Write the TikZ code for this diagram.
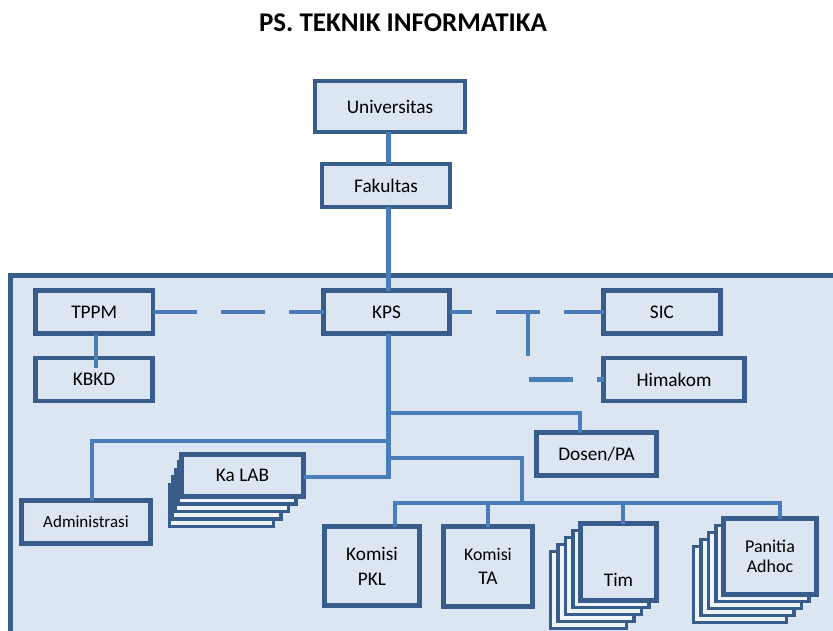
\documentclass[tikz,border=0pt]{standalone}
\usepackage{fontspec}
\setmainfont{Carlito}
\usetikzlibrary{calc}
\definecolor{boxline}{HTML}{385D8A}
\definecolor{boxfill}{HTML}{DCE6F2}
\definecolor{connline}{HTML}{4A7EBB}
\begin{document}
\begin{tikzpicture}[x=1pt,y=-1pt,
  box/.style={draw=boxline, fill=boxfill, line width=4.5pt, inner sep=0pt, outer sep=0pt,
    font=\fontsize{19.3}{25}\selectfont, align=center, text=black},
  layer/.style={draw=boxline, fill=boxfill!45!white, line width=3.5pt},
  conn/.style={draw=connline, line width=4.5pt},
  dashconn/.style={conn, dash pattern=on 44pt off 24pt},
  lbl/.style={inner sep=0pt, font=\fontsize{19.3}{25}\selectfont, text=black}]
\useasboundingbox (0,0) rectangle (833,630);
\clip (0,0) rectangle (833,630);
% title
\node[inner sep=0pt, font=\fontsize{27}{32}\selectfont\bfseries, text=black] (title) at (403,23) {PS. TEKNIK INFORMATIKA};
% container
\draw[draw=boxline, fill=boxfill, line width=5pt] (10,275.5) rectangle (850,650);
% upper boxes
\node[box, minimum width=150pt, minimum height=51pt] (univ) at (390,106.5) {Universitas};
\node[box, minimum width=128pt, minimum height=43pt] (fak) at (386,185.5) {Fakultas};
\node[box, minimum width=117.5pt, minimum height=43pt] (tppm) at (94.25,312) {TPPM};
\node[box, minimum width=117pt, minimum height=43pt] (kbkd) at (94,379.5) {KBKD};
\node[box, minimum width=126pt, minimum height=43pt] (kps) at (386.5,312) {KPS};
\node[box, minimum width=117pt, minimum height=43pt] (sic) at (662,312) {SIC};
\node[box, minimum width=141pt, minimum height=43pt] (him) at (674,379.5) {Himakom};
\node[box, minimum width=120pt, minimum height=43pt] (dosen) at (596.5,454) {Dosen/PA};
\node[box, minimum width=129pt, minimum height=43pt, font=\fontsize{17}{20}\selectfont] (admin) at (86,522) {Administrasi};
% Ka LAB stack
\foreach \k in {4,3,2,1}
  \draw[layer] ({181.5-3*\k},{454.5+7.5*\k}) rectangle ({303.5-7.5*\k},{496.5+7.5*\k});
\node[box, minimum width=122pt, minimum height=42pt] (kalab) at (242.5,475.5) {Ka LAB};
% commissions
\node[box, minimum width=95pt, minimum height=79pt] (pkl) at (372,566) {Komisi\\PKL};
\node[box, minimum width=89pt, minimum height=80pt, font=\fontsize{19.3}{24}\selectfont] (ta) at (488,566.5) {{\fontsize{17.8}{24}\selectfont Komisi}\\TA};
% Tim stack
\foreach \k in {4,3,2,1}
  \draw[layer] ({580.5-7.5*\k},{523.5+7*\k}) rectangle ({656.5-7.5*\k},{600.5+7*\k});
\node[box, minimum width=76pt, minimum height=77pt] (tim) at (618.5,562) {};
\node[lbl] (timtxt) at (618.5,580) {Tim};
% Panitia stack
\foreach \k in {4,3,2,1}
  \draw[layer] ({723.5-7.5*\k},{518.5+7*\k}) rectangle ({816.5-7.5*\k},{594.5+7*\k});
\node[box, minimum width=93pt, minimum height=76pt, font=\fontsize{18}{20}\selectfont] (pan) at (770,556.5) {Panitia\\Adhoc};
% coordinates
\coordinate (sp) at (388.5,0);
\coordinate (kx) at (96,0);
\coordinate (tj) at (528,312);
\coordinate (m1) at (388.5,413);
\coordinate (dj) at (580,413);
\coordinate (m2) at (388.5,441);
\coordinate (aj) at (92,441);
\coordinate (m3) at (388.5,458);
\coordinate (bj) at (522,458);
\coordinate (bj2) at (522,503);
\coordinate (m4) at (388.5,477);
\coordinate (b1) at (395,503);
\coordinate (b4) at (780,503);
\coordinate (tx) at (623,0);
% connectors
\draw[conn] (univ.south -| sp) -- (fak.north -| sp);
\draw[conn] (fak.south -| sp) -- (kps.north -| sp);
\draw[conn] (tppm.south -| kx) -- ($(kbkd.north -| kx)+(0,10)$);
\draw[dashconn] (tppm.east) -- (kps.west);
\draw[dashconn, dash phase=22pt] (kps.east) -- (sic.west);
\draw[dashconn] (tj) |- (him.west);
\draw[conn] (kps.south -| sp) -- (m4) -- (kalab.east |- m4);
\draw[conn] (m1) -- (dj) -- (dj |- dosen.north);
\draw[conn] (m2) -- (aj) -- (aj |- admin.north);
\draw[conn] (m3) -- (bj) -- (bj2);
\draw[conn] (pkl.north -| b1) -- (b1) -- (b4) -- (pan.north -| b4);
\draw[conn] (ta.north) -- (ta.north |- b1);
\draw[conn] (tim.north -| tx) -- (tx |- b1);
\end{tikzpicture}
\end{document}
